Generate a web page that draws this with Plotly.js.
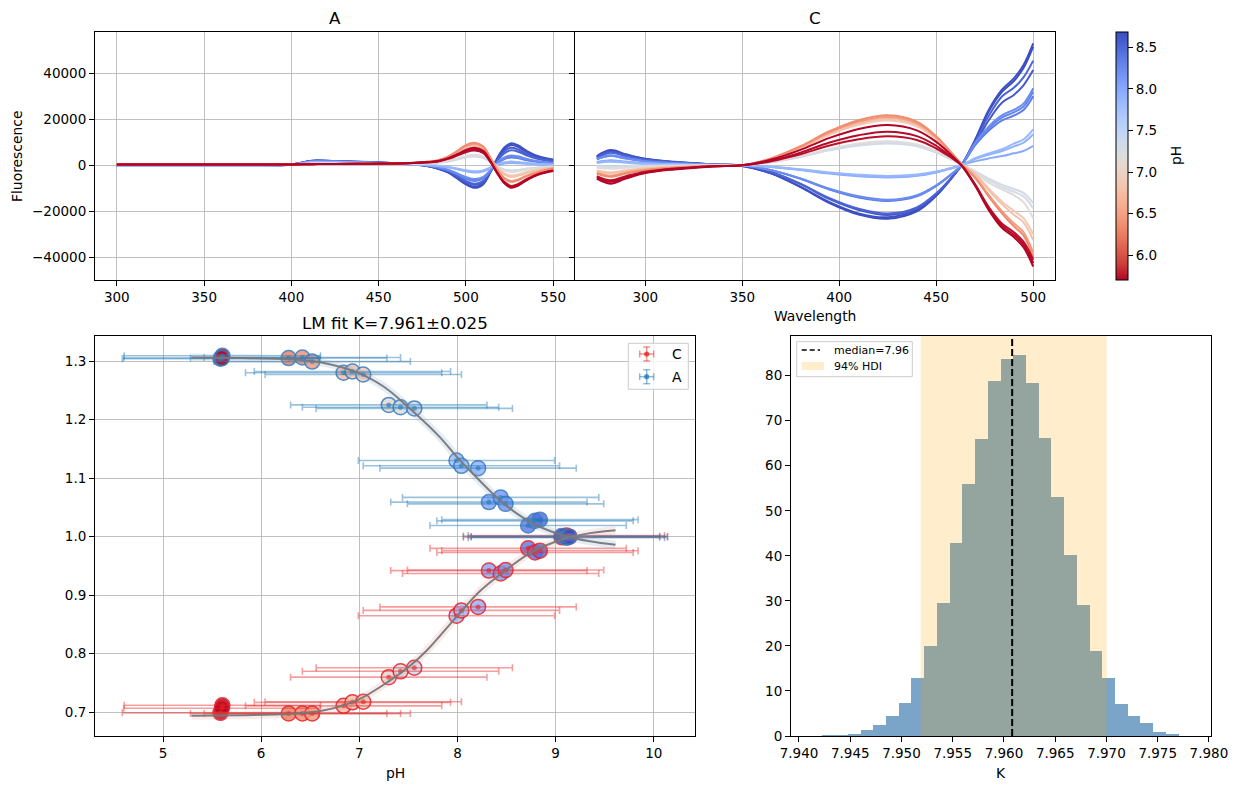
<!DOCTYPE html>
<html>
<head>
<meta charset="utf-8">
<script src="https://cdn.plot.ly/plotly-3.0.1.min.js"></script>
<style>
  html, body { margin: 0; padding: 0; background: #ffffff; }
  #fig { width: 1237px; height: 789px; }
</style>
</head>
<body>
<div id="fig"></div>
<script>
// ---------------- spectra: wavelength grids ----------------
const wlA = [300, 360, 400, 412, 425, 445, 465, 476, 484, 490, 495, 500, 505, 510, 514, 518, 522, 526, 530, 535, 542, 550];
const wlC = [275, 282, 290, 300, 315, 335, 350, 365, 380, 395, 410, 425, 440, 450, 457, 463, 470, 477, 484, 490, 495, 500];

// pH of each spectrum (same order in both label blocks)
const phSpec = [5.70, 5.72, 5.74, 6.35, 6.45, 6.78, 6.88, 7.18, 7.26, 7.34,
                7.85, 7.92, 7.98, 8.22, 8.28, 8.34, 8.52, 8.58, 8.65, 8.68];

// fluorescence of label A, in thousands
const specA = [
  [0.3,0.3,0.4,0.5,0.6,0.7,0.9, 1.3,1.9,3.1,4.8,6.7,7.6,6.3,1.9,-3.5,-7.8,-9.8,-8.8,-6.4,-3.9,-2.5],
  [0.3,0.3,0.4,0.5,0.6,0.7,0.9, 1.2,1.8,3.0,4.5,6.2,7.0,5.8,1.7,-3.4,-7.5,-9.4,-8.5,-6.1,-3.8,-2.4],
  [0.3,0.3,0.4,0.5,0.6,0.7,0.8, 1.2,1.7,2.8,4.2,5.7,6.4,5.3,1.5,-3.3,-7.2,-9.0,-8.1,-5.9,-3.6,-2.2],
  [0.3,0.3,0.4,0.5,0.6,0.7,0.9, 1.4,2.2,3.9,6.2,8.8,9.8,8.2,3.3,-2.1,-5.8,-7.2,-6.5,-4.7,-2.9,-1.4],
  [0.3,0.3,0.4,0.5,0.6,0.7,0.9, 1.4,2.1,3.8,6.0,8.4,9.4,7.9,3.2,-1.9,-5.4,-6.8,-6.1,-4.4,-2.7,-1.3],
  [0.2,0.2,0.4,0.5,0.6,0.7,0.8, 1.3,2.0,3.5,5.6,7.9,8.8,7.4,3.2,-1.2,-4.0,-5.0,-4.5,-3.3,-2.0,-1.0],
  [0.2,0.2,0.4,0.5,0.6,0.7,0.8, 1.3,1.9,3.4,5.3,7.5,8.4,7.1,3.1,-1.0,-3.5,-4.4,-4.0,-2.9,-1.8,-0.9],
  [0.1,0.1,0.3,0.8,0.8,0.7,0.6, 0.8,1.2,2.0,3.0,4.1,4.6,3.9,1.6,-0.8,-2.3,-2.9,-2.6,-1.9,-1.2,-0.7],
  [0.1,0.1,0.3,0.8,0.8,0.7,0.6, 0.8,1.1,1.8,2.7,3.7,4.2,3.5,1.5,-0.6,-2.0,-2.5,-2.3,-1.6,-1.0,-0.6],
  [0.1,0.1,0.3,0.7,0.7,0.6,0.5, 0.7,1.0,1.6,2.5,3.4,3.8,3.2,1.4,-0.5,-1.8,-2.2,-2.0,-1.4,-0.9,-0.5],
  [-0.3,-0.2,0.2,1.4,1.3,1.0,0.5, 0.2,-0.2,-0.7,-1.4,-2.2,-2.6,-2.2,-0.9,0.4,1.3,1.6,1.4,1.0,0.6,0.3],
  [-0.3,-0.2,0.2,1.4,1.3,1.0,0.5, 0.2,-0.3,-0.8,-1.6,-2.4,-2.9,-2.4,-1.1,0.2,1.0,1.2,1.1,0.8,0.5,0.2],
  [-0.3,-0.2,0.2,1.3,1.2,0.9,0.5, 0.2,-0.3,-0.9,-1.7,-2.6,-3.1,-2.6,-1.2,0.1,0.8,1.0,0.9,0.7,0.4,0.2],
  [-0.3,-0.2,0.3,1.7,1.6,1.2,0.6, 0.1,-0.8,-2.0,-3.5,-5.1,-6.0,-5.0,-2.1,1.2,3.4,4.3,3.9,2.8,1.7,1.0],
  [-0.3,-0.2,0.3,1.7,1.6,1.2,0.6, 0.1,-0.9,-2.1,-3.7,-5.4,-6.4,-5.4,-2.3,0.9,3.0,3.8,3.4,2.5,1.5,0.9],
  [-0.3,-0.2,0.3,1.6,1.5,1.1,0.6, 0.1,-1.0,-2.2,-3.9,-5.8,-6.8,-5.7,-2.6,0.7,2.7,3.4,3.1,2.2,1.4,0.8],
  [-0.3,-0.2,0.3,1.9,1.7,1.3,0.6, 0.0,-1.2,-2.6,-4.6,-6.8,-8.0,-6.7,-2.6,2.0,5.2,6.5,5.9,4.2,2.6,1.6],
  [-0.3,-0.2,0.3,1.9,1.7,1.3,0.6, 0.0,-1.3,-2.8,-5.0,-7.3,-8.6,-7.2,-2.7,2.4,6.1,7.6,6.8,4.9,3.0,1.9],
  [-0.3,-0.2,0.3,2.0,1.8,1.3,0.6, -0.1,-1.4,-3.1,-5.5,-8.0,-9.4,-7.8,-2.8,3.2,7.7,9.6,8.6,6.2,3.8,2.5],
  [-0.3,-0.2,0.3,2.0,1.8,1.4,0.6, -0.1,-1.5,-3.2,-5.7,-8.3,-9.8,-8.2,-3.1,2.8,7.0,8.8,7.9,5.7,3.5,2.2]
];

// fluorescence of label C, in thousands
const specC = [
  [-5.8,-8.0,-5.8,-3.4,-1.8,-0.5,0.0, 2.5,6.7,11.9,15.8,17.5,15.2,10.2,5.1,0.0, -8.8,-19.4,-27.3,-31.2,-35.6,-44.0],
  [-5.2,-7.2,-5.2,-3.1,-1.6,-0.4,0.0, 2.0,5.5,9.9,13.1,14.6,12.7,8.5,4.2,0.0, -8.5,-18.7,-26.4,-30.2,-34.4,-42.5],
  [-4.7,-6.5,-4.7,-2.8,-1.4,-0.4,0.0, 1.8,4.8,8.6,11.3,12.6,11.0,7.3,3.7,0.0, -8.2,-18.0,-25.4,-29.1,-33.2,-41.0],
  [-3.6,-5.0,-3.6,-2.2,-1.1,-0.3,0.0, 3.1,8.3,14.8,19.6,21.8,19.0,12.6,6.3,0.5, -5.5,-13.5,-21.0,-26.5,-30.5,-40.0],
  [-3.2,-4.5,-3.2,-1.9,-1.0,-0.3,0.0, 2.9,8.0,14.3,18.9,21.0,18.3,12.2,6.1,0.5, -5.0,-12.8,-20.0,-25.2,-29.0,-38.0],
  [-2.5,-3.5,-2.5,-1.5,-0.8,-0.2,0.0, 2.8,7.7,13.7,18.2,20.2,17.6,11.7,5.9,0.6, -4.0,-10.8,-17.0,-21.5,-24.8,-32.5],
  [-2.2,-3.0,-2.2,-1.3,-0.7,-0.2,0.0, 2.7,7.4,13.3,17.6,19.5,17.0,11.3,5.7,0.6, -3.6,-10.0,-15.8,-19.8,-23.0,-30.0],
  [-1.1,-1.5,-1.1,-0.6,-0.3,-0.1,0.0, 1.5,4.0,7.1,9.5,10.5,9.1,6.1,3.0,0.4, -3.2,-7.5,-10.5,-13.0,-16.0,-23.0],
  [-0.7,-1.0,-0.7,-0.4,-0.2,0.0,0.0, 1.4,3.8,6.8,9.0,10.0,8.7,5.8,2.9,0.4, -2.8,-6.5,-9.5,-11.5,-13.5,-18.7],
  [-0.4,-0.5,-0.4,-0.2,-0.1,0.0,0.0, 1.3,3.6,6.5,8.6,9.5,8.3,5.5,2.8,0.4, -2.5,-5.8,-8.5,-10.3,-12.0,-16.5],
  [1.0,1.5,1.1,0.6,0.3,0.1,0.0, -0.6,-1.7,-3.1,-4.1,-4.6,-4.0,-2.7,-1.3,0.0, 3.1,5.2,7.0,9.4,11.2,15.6],
  [1.3,2.0,1.4,0.9,0.4,0.1,0.0, -0.7,-1.9,-3.4,-4.5,-5.0,-4.4,-2.9,-1.5,0.0, 2.7,4.6,6.2,8.2,9.8,13.5],
  [1.4,2.2,1.6,0.9,0.5,0.1,0.0, -0.7,-2.0,-3.6,-4.8,-5.3,-4.6,-3.1,-1.5,0.0, 1.7,3.0,4.0,5.2,6.2,8.4],
  [2.6,4.0,2.9,1.7,0.9,0.2,0.0, -2.1,-5.7,-10.2,-13.5,-15.0,-13.0,-8.7,-4.4,0.0, 9.7,16.8,21.8,24.1,26.8,33.5],
  [2.7,4.2,3.0,1.8,0.9,0.3,0.0, -2.1,-5.8,-10.4,-13.8,-15.3,-13.3,-8.9,-4.4,0.0, 9.3,16.0,20.8,23.0,25.6,32.0],
  [2.8,4.4,3.2,1.9,1.0,0.3,0.0, -2.2,-5.9,-10.5,-14.0,-15.5,-13.5,-9.0,-4.5,0.0, 8.7,15.0,19.5,21.6,24.0,30.0],
  [3.3,5.5,4.0,2.4,1.2,0.3,0.0, -2.9,-8.0,-14.3,-18.9,-21.0,-18.3,-12.2,-6.1,0.0, 10.0,21.4,30.0,33.7,38.2,45.5],
  [3.5,5.8,4.2,2.5,1.3,0.3,0.0, -3.0,-8.2,-14.7,-19.4,-21.6,-18.8,-12.5,-6.3,0.0, 9.1,19.5,27.3,30.6,34.8,41.4],
  [3.7,6.2,4.5,2.7,1.4,0.4,-0.3, -3.5,-9.3,-16.0,-20.9,-22.6,-19.4,-12.9,-6.4,0.1, 11.0,24.0,33.0,37.8,43.6,53.0],
  [4.0,6.6,4.8,2.8,1.5,0.4,-0.3, -3.6,-9.5,-16.4,-21.4,-23.2,-20.0,-13.3,-6.6,0.0, 10.7,23.3,32.0,36.6,42.3,51.6]
];

// ---------------- titration points ----------------
const phPoints = [5.585, 5.605, 5.600, 6.28, 6.42, 6.52, 6.84, 6.93, 7.04, 7.30, 7.42, 7.56,
                  7.99, 8.04, 8.21, 8.32, 8.44, 8.49, 8.72, 8.79, 8.84, 9.06, 9.11, 9.14];
const phErr   = [1.0, 1.0, 1.0, 1.0, 1.0, 1.0, 1.0, 1.0, 1.0, 1.0, 1.0, 1.0,
                 1.0, 1.0, 1.0, 1.0, 1.0, 1.0, 1.0, 1.0, 1.0, 1.0, 1.0, 1.0];
const yC = [0.699, 0.712, 0.707, 0.698, 0.698, 0.698, 0.711, 0.717, 0.718, 0.760, 0.770, 0.776,
            0.865, 0.874, 0.880, 0.942, 0.937, 0.943, 0.980, 0.973, 0.976, 0.999, 1.002, 1.000];
const yA = [1.304, 1.309, 1.305, 1.305, 1.306, 1.299, 1.280, 1.282, 1.277, 1.225, 1.221, 1.219,
            1.130, 1.121, 1.117, 1.059, 1.067, 1.056, 1.019, 1.027, 1.029, 1.001, 0.998, 1.000];

// fitted curves
const fitAx = [5.29, 5.8, 6.3, 6.6, 6.97, 7.25, 7.52, 7.82, 8.0, 8.23, 8.4, 8.61, 8.81, 9.08, 9.35, 9.61];
const fitAy = [1.306, 1.305, 1.303, 1.298, 1.281, 1.256, 1.218, 1.170, 1.135, 1.095, 1.067, 1.039, 1.019, 1.002, 0.992, 0.986];
const fitCx = [5.29, 5.8, 6.29, 6.63, 6.97, 7.31, 7.52, 7.69, 7.99, 8.23, 8.44, 8.74, 9.08, 9.35, 9.61];
const fitCy = [0.694, 0.695, 0.697, 0.703, 0.720, 0.754, 0.780, 0.806, 0.863, 0.907, 0.936, 0.972, 0.996, 1.006, 1.011];

// ---------------- posterior of K ----------------
const kEdges = [7.942280, 7.943522, 7.944763, 7.946005, 7.947246, 7.948488, 7.949730, 7.950971,
                7.952213, 7.953454, 7.954696, 7.955938, 7.957179, 7.958421, 7.959662, 7.960904,
                7.962146, 7.963387, 7.964629, 7.965870, 7.967112, 7.968354, 7.969595, 7.970837,
                7.972078, 7.973320, 7.974562, 7.975803, 7.977045];
const kDensity = [0.2, 0.2, 0.4, 1.3, 2.4, 4.4, 7.3, 12.9, 20.0, 29.5, 42.9, 56.0, 66.0, 78.8,
                  83.7, 84.6, 78.4, 66.2, 53.1, 40.2, 29.1, 18.9, 12.9, 7.1, 4.4, 2.9, 0.9, 0.4];
const kMedian = 7.9608;
const hdiLow = 7.95187, hdiHigh = 7.97002;

// ---------------- styling helpers ----------------
const FONT = 'DejaVu Sans, Arial, sans-serif';
const W = 1237, H = 789;
const px = v => v / W;
const py = v => 1 - v / H;

// Moreland "coolwarm" stops
const cwStops = [
  [0.0, 59, 76, 192], [0.0625, 77, 104, 215], [0.125, 98, 130, 234], [0.1875, 119, 154, 247],
  [0.25, 141, 176, 254], [0.3125, 163, 194, 255], [0.375, 184, 208, 249], [0.4375, 204, 217, 238],
  [0.5, 221, 221, 221], [0.5625, 236, 211, 197], [0.625, 245, 196, 173], [0.6875, 247, 177, 148],
  [0.75, 244, 154, 123], [0.8125, 236, 127, 99], [0.875, 222, 96, 77], [0.9375, 203, 62, 56],
  [1.0, 180, 4, 38]
];
function coolwarm(t) {
  t = Math.max(0, Math.min(1, t));
  for (let i = 1; i < cwStops.length; i++) {
    if (t <= cwStops[i][0]) {
      const a = cwStops[i - 1], b = cwStops[i];
      const f = (t - a[0]) / (b[0] - a[0]);
      const c = [1, 2, 3].map(k => Math.round(a[k] + (b[k] - a[k]) * f));
      return 'rgb(' + c.join(',') + ')';
    }
  }
  return 'rgb(180,4,38)';
}
// reversed map: low pH red, high pH blue
const coolwarmR = cwStops.map(s => [1 - s[0], 'rgb(' + s[1] + ',' + s[2] + ',' + s[3] + ')']).reverse();

const PH_MIN = Math.min(...phSpec), PH_MAX = Math.max(...phSpec);
const phColor = ph => coolwarm(1 - (ph - PH_MIN) / (PH_MAX - PH_MIN));

function axis(extra) {
  return Object.assign({
    showline: true, mirror: true, linecolor: '#000000', linewidth: 1,
    ticks: 'outside', ticklen: 5, tickwidth: 1, tickcolor: '#000000',
    showgrid: true, gridcolor: '#b0b0b0', gridwidth: 0.8,
    zeroline: false, fixedrange: true,
    tickfont: { family: FONT, size: 13.5, color: '#000000' }
  }, extra);
}

const traces = [];

// spectra (high pH first so acidic curves sit on top)
for (let i = phSpec.length - 1; i >= 0; i--) {
  const col = phColor(phSpec[i]);
  traces.push({
    type: 'scatter', mode: 'lines', x: wlA, y: specA[i].map(v => v * 1000),
    xaxis: 'x', yaxis: 'y', line: { color: col, width: 2, shape: 'spline', smoothing: 1 },
    hoverinfo: 'skip', showlegend: false
  });
  traces.push({
    type: 'scatter', mode: 'lines', x: wlC, y: specC[i].map(v => v * 1000),
    xaxis: 'x2', yaxis: 'y2', line: { color: col, width: 2, shape: 'spline', smoothing: 1 },
    hoverinfo: 'skip', showlegend: false
  });
}

// colour bar for the spectra
traces.push({
  type: 'scatter', mode: 'markers', x: [null], y: [null], xaxis: 'x', yaxis: 'y',
  hoverinfo: 'skip', showlegend: false,
  marker: {
    color: [PH_MIN], cmin: PH_MIN, cmax: PH_MAX, colorscale: coolwarmR, showscale: true,
    colorbar: {
      x: px(1115.7), xanchor: 'left', y: py(156.2), yanchor: 'middle',
      len: 247.7 / H, lenmode: 'fraction', thickness: 12, thicknessmode: 'pixels',
      outlinewidth: 1, outlinecolor: '#000000', xpad: 0, ypad: 0,
      ticks: 'outside', ticklen: 5, tickwidth: 1, tickcolor: '#000000',
      tickvals: [6.0, 6.5, 7.0, 7.5, 8.0, 8.5], ticktext: ['6.0', '6.5', '7.0', '7.5', '8.0', '8.5'],
      tickfont: { family: FONT, size: 13.5, color: '#000000' }
    }
  }
});

// titration circles
function circles(ys, edge) {
  return {
    type: 'scatter', mode: 'markers', x: phPoints, y: ys, xaxis: 'x3', yaxis: 'y3',
    hoverinfo: 'skip', showlegend: false,
    marker: {
      size: 15, opacity: 0.85, color: phPoints, colorscale: coolwarmR, cmin: 5.58, cmax: 9.14,
      line: { color: edge, width: 1.5 }
    }
  };
}
function errbars(ys, lineCol, dotCol) {
  return {
    type: 'scatter', mode: 'markers', x: phPoints, y: ys, xaxis: 'x3', yaxis: 'y3',
    hoverinfo: 'skip', showlegend: false,
    marker: { size: 5, color: dotCol },
    error_x: { type: 'data', array: phErr, symmetric: true, color: lineCol, thickness: 1.6, width: 3.5 }
  };
}
traces.push(circles(yC, 'rgb(228,26,36)'));
traces.push(circles(yA, 'rgb(52,118,188)'));
traces.push(errbars(yC, 'rgba(232,40,40,0.45)', 'rgba(228,30,30,0.6)'));
traces.push(errbars(yA, 'rgba(31,119,180,0.45)', 'rgba(31,119,180,0.6)'));

// fitted curves with a soft band
function fit(xs, ys, band) {
  traces.push({
    type: 'scatter', mode: 'lines', x: xs, y: ys, xaxis: 'x3', yaxis: 'y3',
    line: { color: band, width: 8, shape: 'spline' }, hoverinfo: 'skip', showlegend: false
  });
  traces.push({
    type: 'scatter', mode: 'lines', x: xs, y: ys, xaxis: 'x3', yaxis: 'y3',
    line: { color: 'rgba(120,120,120,0.95)', width: 2, shape: 'spline' }, hoverinfo: 'skip', showlegend: false
  });
}
fit(fitCx, fitCy, 'rgba(225,130,130,0.16)');
fit(fitAx, fitAy, 'rgba(120,160,210,0.2)');

// K posterior histogram
const kCenters = kDensity.map((_, i) => (kEdges[i] + kEdges[i + 1]) / 2);
const kWidths = kDensity.map((_, i) => kEdges[i + 1] - kEdges[i]);
traces.push({
  type: 'bar', x: kCenters, y: kDensity, width: kWidths, xaxis: 'x4', yaxis: 'y4',
  marker: { color: 'rgba(70,130,180,0.72)', line: { width: 0 } },
  hoverinfo: 'skip', showlegend: false
});

// ---------------- annotations & legend glyphs ----------------
const annotations = [];
const shapes = [];
function label(t, x, y, size, extra) {
  annotations.push(Object.assign({
    text: t, x: px(x), y: py(y), xref: 'paper', yref: 'paper', showarrow: false,
    xanchor: 'center', yanchor: 'middle', font: { family: FONT, size: size, color: '#000000' }
  }, extra || {}));
}
function seg(x0, y0, x1, y1, color, width, dash) {
  shapes.push({ type: 'line', xref: 'paper', yref: 'paper', x0: px(x0), y0: py(y0), x1: px(x1), y1: py(y1),
    line: { color: color, width: width, dash: dash || 'solid' } });
}
function box(x0, y0, x1, y1, fill, line) {
  shapes.push({ type: 'rect', xref: 'paper', yref: 'paper', x0: px(x0), y0: py(y0), x1: px(x1), y1: py(y1),
    fillcolor: fill, line: line });
}
function dot(cx, cy, r, color) {
  shapes.push({ type: 'circle', xref: 'paper', yref: 'paper', x0: px(cx - r), x1: px(cx + r), y0: py(cy + r), y1: py(cy - r),
    fillcolor: color, line: { width: 0 } });
}

label('A', 335, 18, 16.7);
label('C', 815, 18, 16.7);
label('LM fit K=7.961±0.025', 395, 323, 16.7);
label('Fluorescence', 17, 156, 13.9, { textangle: -90 });
label('Wavelength', 815, 316, 13.9);
label('pH', 1176, 156, 13.9, { textangle: -90 });
label('pH', 395, 773, 13.9);
label('K', 1001, 773, 13.9);

// histogram: HDI band and median line
shapes.push({ type: 'rect', xref: 'x4', yref: 'y4 domain', x0: hdiLow, x1: hdiHigh, y0: 0, y1: 1,
  fillcolor: 'rgba(255,165,0,0.2)', line: { width: 0 }, layer: 'above' });
shapes.push({ type: 'line', xref: 'x4', yref: 'y4 domain', x0: kMedian, x1: kMedian, y0: 0, y1: 1,
  line: { color: '#000000', width: 2, dash: '7px,3px' }, layer: 'above' });

// titration legend
box(628.3, 343.3, 688.3, 389.3, 'rgba(255,255,255,0.8)', { color: '#cccccc', width: 1 });
function errGlyph(cx, cy, lineCol, dotCol) {
  seg(cx - 7, cy, cx + 7, cy, lineCol, 1.5);
  seg(cx - 7, cy - 3.5, cx - 7, cy + 3.5, lineCol, 1.5);
  seg(cx + 7, cy - 3.5, cx + 7, cy + 3.5, lineCol, 1.5);
  seg(cx, cy - 7, cx, cy + 7, lineCol, 1.5);
  seg(cx - 3.5, cy - 7, cx + 3.5, cy - 7, lineCol, 1.5);
  seg(cx - 3.5, cy + 7, cx + 3.5, cy + 7, lineCol, 1.5);
  dot(cx, cy, 2.6, dotCol);
}
errGlyph(646.7, 354, 'rgba(232,40,40,0.5)', 'rgba(228,30,30,0.75)');
errGlyph(646.7, 376.7, 'rgba(31,119,180,0.5)', 'rgba(31,119,180,0.75)');
label('C', 677, 354, 13.9);
label('A', 677, 377, 13.9);

// histogram legend
box(796.7, 341.7, 912.3, 376.7, 'rgba(255,255,255,0.8)', { color: '#cccccc', width: 1 });
seg(801.7, 350, 820, 350, '#000000', 1.6, '5px,3px');
box(801.7, 362, 824, 370, 'rgba(255,165,0,0.2)', { width: 0 });
label('median=7.96', 832.3, 350, 11, { xanchor: 'left' });
label('94% HDI', 832.3, 366, 11, { xanchor: 'left' });

// ---------------- layout ----------------
const fluorTicks = [-40000, -20000, 0, 20000, 40000];
const fluorText = ['\u221240000', '\u221220000', '0', '20000', '40000'];
const topDom = [py(280), py(32.3)];
const botDom = [py(736), py(336)];

const layout = {
  width: W, height: H,
  margin: { l: 0, r: 0, t: 0, b: 0, autoexpand: false },
  paper_bgcolor: '#ffffff', plot_bgcolor: '#ffffff',
  font: { family: FONT, color: '#000000' },
  showlegend: false, bargap: 0,
  xaxis: axis({ domain: [px(95), px(575)], range: [287.5, 562.5], anchor: 'y',
    tickvals: [300, 350, 400, 450, 500, 550], ticktext: ['300', '350', '400', '450', '500', '550'] }),
  // right edge of this panel is drawn by the neighbouring panel's left spine
  yaxis: axis({ domain: topDom, range: [-49870, 57830], anchor: 'x', mirror: false,
    tickvals: fluorTicks, ticktext: fluorText }),
  xaxis2: axis({ domain: [px(575), px(1055)], range: [263.75, 511.25], anchor: 'y2',
    tickvals: [300, 350, 400, 450, 500], ticktext: ['300', '350', '400', '450', '500'] }),
  yaxis2: axis({ domain: topDom, range: [-49870, 57830], anchor: 'x2',
    tickvals: fluorTicks, showticklabels: false }),
  xaxis3: axis({ domain: [px(95), px(695)], range: [4.307, 10.42], anchor: 'y3',
    tickvals: [5, 6, 7, 8, 9, 10], ticktext: ['5', '6', '7', '8', '9', '10'] }),
  yaxis3: axis({ domain: botDom, range: [0.6595, 1.3427], anchor: 'x3',
    tickvals: [0.7, 0.8, 0.9, 1.0, 1.1, 1.2, 1.3], ticktext: ['0.7', '0.8', '0.9', '1.0', '1.1', '1.2', '1.3'] }),
  xaxis4: axis({ domain: [px(791), px(1211)], range: [7.93922, 7.9802], anchor: 'y4', showgrid: false,
    tickvals: [7.94, 7.945, 7.95, 7.955, 7.96, 7.965, 7.97, 7.975, 7.98],
    ticktext: ['7.940', '7.945', '7.950', '7.955', '7.960', '7.965', '7.970', '7.975', '7.980'] }),
  yaxis4: axis({ domain: botDom, range: [0, 88.8], anchor: 'x4', showgrid: false,
    tickvals: [0, 10, 20, 30, 40, 50, 60, 70, 80], ticktext: ['0', '10', '20', '30', '40', '50', '60', '70', '80'] }),
  annotations: annotations,
  shapes: shapes
};

Plotly.newPlot('fig', traces, layout, { displayModeBar: false, staticPlot: true });
</script>
</body>
</html>
